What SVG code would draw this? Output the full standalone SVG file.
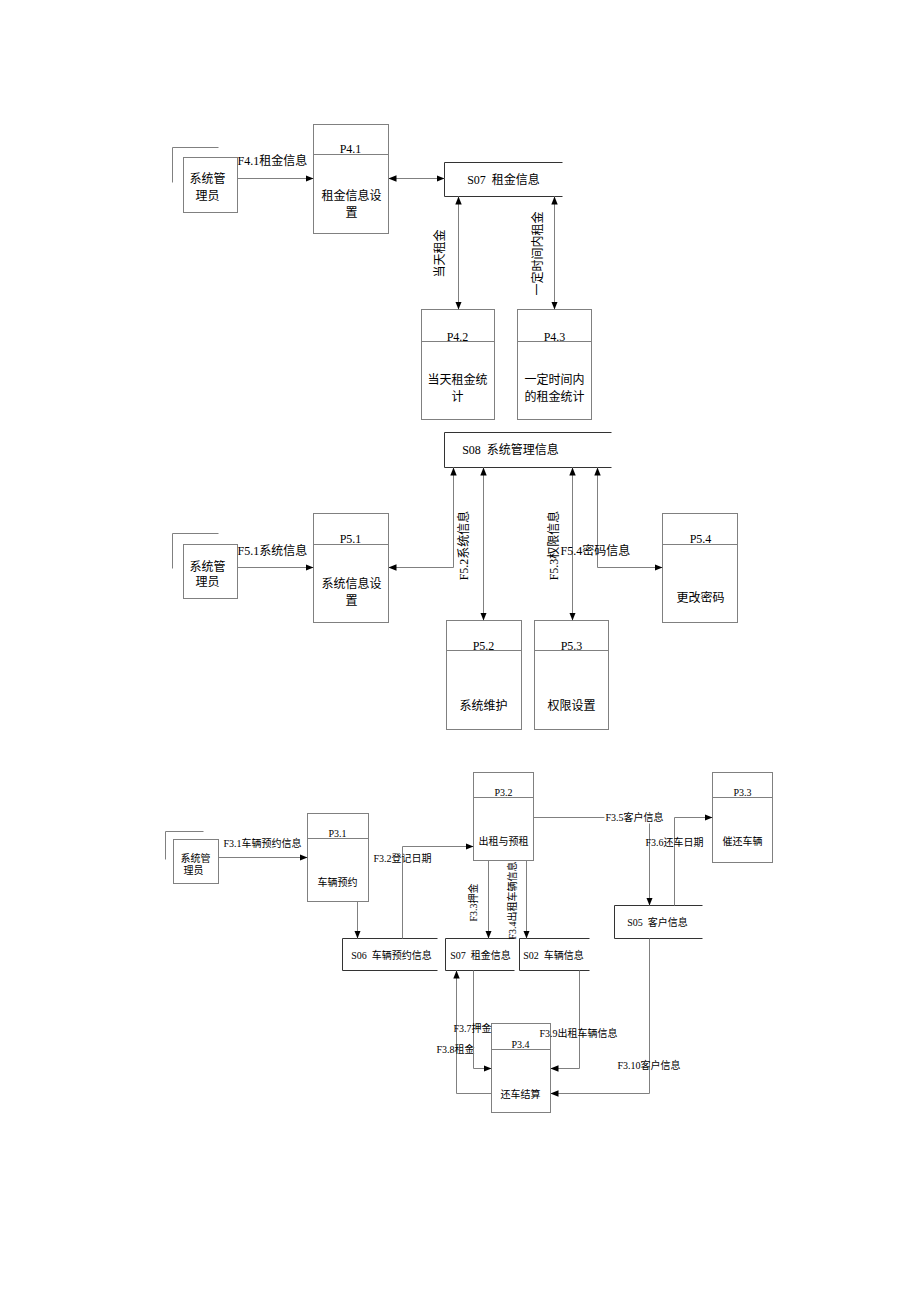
<svg xmlns="http://www.w3.org/2000/svg" width="920" height="1302" viewBox="0 0 920 1302">
<defs>
<style>
.proc{fill:#fff;stroke:#808080;stroke-width:1}
.div{stroke:#808080;stroke-width:1;fill:none}
.ent{fill:#fff;stroke:#808080;stroke-width:1}
.shadow{fill:none;stroke:#808080;stroke-width:1}
.store{fill:none;stroke:#333;stroke-width:1}
.con{fill:none;stroke:#808080;stroke-width:1}
.t12{font-family:"Liberation Serif","Noto Sans CJK SC",serif;font-size:12px;fill:#000}
.t10{font-family:"Liberation Serif","Noto Sans CJK SC",serif;font-size:10px;fill:#000}
.m{text-anchor:middle}
.arr{marker-end:url(#ah)}
.arr2{marker-end:url(#ah);marker-start:url(#ah)}
</style>
<marker id="ah" viewBox="0 0 8 8" refX="8" refY="4" markerWidth="8" markerHeight="8" markerUnits="userSpaceOnUse" orient="auto-start-reverse">
<path d="M0,0.8 L8,4 L0,7.2 Z" fill="#000"/>
</marker>
</defs>
<rect width="920" height="1302" fill="#fff"/>
<g transform="translate(0.5,0.5)">

<!-- ================= TOP SECTION ================= -->
<g id="E4">
<polyline class="shadow" points="218,147 172,147 172,182"/>
<rect class="ent" x="183" y="157" width="54" height="55"/>
<text class="t12" x="189" y="182">系统管</text>
<text class="t12" x="195" y="199">理员</text>
</g>
<g id="P4_1">
<rect class="proc" x="313" y="124" width="75" height="109"/>
<line class="div" x1="313" y1="154" x2="388" y2="154"/>
<text class="t12 m" x="350" y="152">P4.1</text>
<text class="t12 m" x="351" y="199">租金信息设</text>
<text class="t12 m" x="351" y="216">置</text>
</g>
<g id="S07_top">
<path class="store" d="M562,162 H444 V196 H562"/>
<text class="t12 m" x="503" y="183">S07&#160;&#160;租金信息</text>
</g>
<g id="P4_2">
<rect class="proc" x="421" y="309" width="73" height="110"/>
<line class="div" x1="421" y1="341" x2="494" y2="341"/>
<text class="t12 m" x="457" y="340">P4.2</text>
<text class="t12 m" x="457" y="383">当天租金统</text>
<text class="t12 m" x="457" y="400">计</text>
</g>
<g id="P4_3">
<rect class="proc" x="517" y="309" width="74" height="110"/>
<line class="div" x1="517" y1="341" x2="591" y2="341"/>
<text class="t12 m" x="554" y="340">P4.3</text>
<text class="t12 m" x="554" y="383">一定时间内</text>
<text class="t12 m" x="554" y="400">的租金统计</text>
</g>

<!-- ================= MIDDLE SECTION ================= -->
<g id="S08">
<path class="store" d="M611,432 H444 V467 H611"/>
<text class="t12 m" x="510" y="453">S08&#160;&#160;系统管理信息</text>
</g>
<g id="E5">
<polyline class="shadow" points="218,533 172,533 172,568"/>
<rect class="ent" x="183" y="544" width="54" height="54"/>
<text class="t12" x="189" y="570">系统管</text>
<text class="t12" x="195" y="585">理员</text>
</g>
<g id="P5_1">
<rect class="proc" x="313" y="513" width="75" height="109"/>
<line class="div" x1="313" y1="544" x2="388" y2="544"/>
<text class="t12 m" x="350" y="542">P5.1</text>
<text class="t12 m" x="351" y="587">系统信息设</text>
<text class="t12 m" x="351" y="604">置</text>
</g>
<g id="P5_2">
<rect class="proc" x="446" y="620" width="75" height="109"/>
<line class="div" x1="446" y1="650" x2="521" y2="650"/>
<text class="t12 m" x="483" y="649">P5.2</text>
<text class="t12 m" x="483" y="709">系统维护</text>
</g>
<g id="P5_3">
<rect class="proc" x="534" y="620" width="74" height="109"/>
<line class="div" x1="534" y1="650" x2="608" y2="650"/>
<text class="t12 m" x="571" y="649">P5.3</text>
<text class="t12 m" x="571" y="709">权限设置</text>
</g>
<g id="P5_4">
<rect class="proc" x="662" y="513" width="75" height="109"/>
<line class="div" x1="662" y1="544" x2="737" y2="544"/>
<text class="t12 m" x="700" y="542">P5.4</text>
<text class="t12 m" x="700" y="601">更改密码</text>
</g>

<!-- ================= BOTTOM SECTION ================= -->
<g id="E3">
<polyline class="shadow" points="203,831 165,831 165,859"/>
<rect class="ent" x="173" y="839" width="45" height="44"/>
<text class="t10" x="180" y="861">系统管</text>
<text class="t10" x="183" y="873">理员</text>
</g>
<g id="P3_1">
<rect class="proc" x="307" y="813" width="61" height="88"/>
<line class="div" x1="307" y1="838" x2="368" y2="838"/>
<text class="t10 m" x="337" y="836">P3.1</text>
<text class="t10 m" x="337" y="885">车辆预约</text>
</g>
<g id="S06">
<path class="store" d="M437,938 H342 V970 H437"/>
<text class="t10 m" x="391" y="958">S06&#160;&#160;车辆预约信息</text>
</g>
<g id="P3_2">
<rect class="proc" x="473" y="772" width="60" height="88"/>
<line class="div" x1="473" y1="797" x2="533" y2="797"/>
<text class="t10 m" x="503" y="795">P3.2</text>
<text class="t10 m" x="503" y="844">出租与预租</text>
</g>
<g id="P3_3">
<rect class="proc" x="712" y="772" width="60" height="90"/>
<line class="div" x1="712" y1="797" x2="772" y2="797"/>
<text class="t10 m" x="742" y="795">P3.3</text>
<text class="t10 m" x="742" y="844">催还车辆</text>
</g>
<g id="S05">
<path class="store" d="M702,905 H614 V938 H702"/>
<text class="t10 m" x="657" y="925">S05&#160;&#160;客户信息</text>
</g>
<g id="S07_bottom">
<path class="store" d="M514,938 H445 V970 H514"/>
<text class="t10 m" x="480" y="958">S07&#160;&#160;租金信息</text>
</g>
<g id="S02">
<path class="store" d="M589,938 H519 V970 H589"/>
<text class="t10 m" x="553" y="958">S02&#160;&#160;车辆信息</text>
</g>
<g id="P3_4">
<rect class="proc" x="491" y="1023" width="59" height="89"/>
<line class="div" x1="491" y1="1049" x2="550" y2="1049"/>
<text class="t10 m" x="520" y="1047">P3.4</text>
<text class="t10 m" x="520" y="1097">还车结算</text>
</g>

<!-- ================= CONNECTORS ================= -->
<g id="connectors">
<!-- top -->
<line class="con arr" x1="237" y1="178" x2="313" y2="178"/>
<text class="t12" x="237" y="164">F4.1租金信息</text>
<line class="con arr2" x1="388" y1="178" x2="444" y2="178"/>
<line class="con arr2" x1="458" y1="196" x2="458" y2="309"/>
<text class="t12 m" transform="translate(443,253) rotate(-90)">当天租金</text>
<line class="con arr2" x1="554" y1="196" x2="554" y2="309"/>
<text class="t12 m" transform="translate(541,253) rotate(-90)">一定时间内租金</text>

<!-- middle -->
<line class="con arr" x1="237" y1="567" x2="313" y2="567"/>
<text class="t12" x="237" y="554">F5.1系统信息</text>
<path class="con arr2" d="M388,567 H453 V467"/>
<line class="con arr2" x1="483" y1="467" x2="483" y2="620"/>
<text class="t12 m" transform="translate(467,545) rotate(-90)">F5.2系统信息</text>
<line class="con arr2" x1="572" y1="467" x2="572" y2="620"/>
<text class="t12 m" transform="translate(557,545) rotate(-90)">F5.3权限信息</text>
<path class="con arr2" d="M597,467 V567 H662"/>
<text class="t12" x="560" y="554">F5.4密码信息</text>

<!-- bottom -->
<line class="con arr" x1="218" y1="857" x2="307" y2="857"/>
<text class="t10" x="223" y="846">F3.1车辆预约信息</text>
<line class="con arr" x1="357" y1="901" x2="357" y2="938"/>
<path class="con arr" d="M402,938 V846 H473"/>
<text class="t10" x="373" y="861">F3.2登记日期</text>
<path class="con arr" d="M533,817 H604 M649,823 V905"/>
<text class="t10" x="605" y="820">F3.5客户信息</text>
<path class="con arr" d="M674,905 V817 H712"/>
<text class="t10" x="645" y="845">F3.6还车日期</text>
<line class="con arr" x1="488" y1="860" x2="488" y2="938"/>
<text class="t10 m" transform="translate(476,902) rotate(-90)">F3.3押金</text>
<line class="con arr" x1="526" y1="860" x2="526" y2="938"/>
<text class="t10 m" transform="translate(515,900) rotate(-90)">F3.4出租车辆信息</text>
<path class="con arr" d="M491,1093 H456 V970"/>
<text class="t10" x="436" y="1052">F3.8租金</text>
<path class="con arr" d="M473,970 V1068 H491"/>
<text class="t10" x="453" y="1031">F3.7押金</text>
<path class="con arr" d="M579,970 V1068 H550"/>
<text class="t10" x="539" y="1036">F3.9出租车辆信息</text>
<path class="con arr" d="M649,938 V1093 H550"/>
<text class="t10" x="617" y="1068">F3.10客户信息</text>
</g>
</g>
</svg>
